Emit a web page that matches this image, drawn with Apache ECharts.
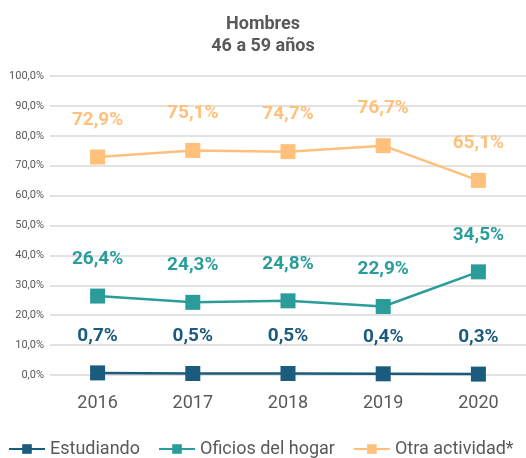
<!DOCTYPE html>
<html lang="es">
<head>
    <meta charset="UTF-8">
    <title>Hombres 46 a 59 años</title>
    <script src="https://cdn.jsdelivr.net/npm/echarts@6/dist/echarts.min.js"></script>
    <style>
        html, body { margin: 0; padding: 0; background: #fff; }
    </style>
</head>
<body>
<div id="chart" style="width: 526px;height:458px;"></div>
<script>
    // datos
    var years = ['2016', '2017', '2018', '2019', '2020'];
    var estudiando = [0.7, 0.5, 0.5, 0.4, 0.3];
    var oficios = [26.4, 24.3, 24.8, 22.9, 34.5];
    var otra = [72.9, 75.1, 74.7, 76.7, 65.1];

    var fmt = function (v) { return v.toFixed(1).replace('.', ',') + '%'; };

    function serie(name, data, color) {
        return {
            name: name,
            type: 'line',
            data: data,
            symbol: 'rect',
            symbolSize: 15,
            lineStyle: { color: color, width: 2.5 },
            itemStyle: { color: color },
            label: {
                show: true,
                position: 'top',
                distance: 20,
                color: color,
                fontFamily: 'Roboto',
                fontWeight: 'bold',
                fontSize: 19,
                formatter: function (p) { return fmt(p.value); }
            }
        };
    }

    var myChart = echarts.init(document.getElementById('chart'));
    var option = {
        animation: false,
        textStyle: { fontFamily: 'Roboto' },
        title: {
            text: 'Hombres\n46 a 59 años',
            left: 'center',
            top: 8,
            textStyle: { fontSize: 18, fontWeight: 'bold', color: '#595959', lineHeight: 22, fontFamily: 'Roboto' }
        },
        legend: {
            bottom: 0,
            left: 8,
            width: 518,
            padding: 0,
            itemWidth: 36,
            itemHeight: 12,
            itemGap: 18,
            textStyle: { fontSize: 18, color: '#595959' },
            data: ['Estudiando', 'Oficios del hogar', 'Otra actividad*']
        },
        grid: { left: 50, right: 0, top: 76, bottom: 83 },
        xAxis: {
            type: 'category',
            data: years,
            axisLine: { show: false },
            axisTick: { show: false },
            axisLabel: { fontSize: 18, color: '#595959', margin: 19 }
        },
        yAxis: {
            type: 'value',
            min: 0,
            max: 100,
            interval: 10,
            axisLabel: {
                fontSize: 11,
                color: '#595959',
                margin: 6,
                formatter: function (v) { return fmt(v); }
            },
            splitLine: { lineStyle: { color: '#d9d9d9', width: 1.5 } }
        },
        series: [
            serie('Estudiando', estudiando, '#1B5B7D'),
            serie('Oficios del hogar', oficios, '#2A9D9B'),
            serie('Otra actividad*', otra, '#FFC07B')
        ]
    };
    myChart.setOption(option);
</script>
</body>
</html>
